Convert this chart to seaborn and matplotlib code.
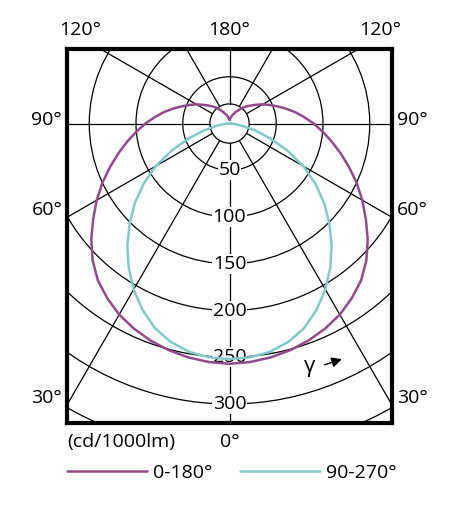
import numpy as np
import pandas as pd
import matplotlib
matplotlib.use("Agg")
import matplotlib.pyplot as plt
from matplotlib.patches import Circle
import seaborn as sns

# luminous intensity (cd/1000lm), gamma in degrees
gamma = list(range(0, 181, 5))
c0_180 = [257, 256, 254, 251, 247, 242, 236, 228, 219, 207,
          193, 178, 164, 150, 136, 123, 111, 100, 90, 80,
          71, 62, 54, 47, 41, 35, 30, 26, 22, 18,
          15, 12, 10, 8, 6, 5, 4]
c90_270 = [252, 251, 248, 242, 233, 220, 205, 188, 170, 151,
           132, 112, 91, 68, 46, 28, 14, 5, 0]

rings = [50, 100, 150, 200, 250, 300, 350, 400]
ring_labels = [50, 100, 150, 200, 250, 300]
spokes = list(range(0, 360, 30))
inner_r = 21

angle_labels_left = [("120°", 0.04, 1.052), ("90°", -0.062, 0.81),
                     ("60°", -0.062, 0.57), ("30°", -0.062, 0.067)]
angle_labels_right = [("120°", 0.963, 1.052), ("90°", 1.062, 0.81),
                      ("60°", 1.062, 0.57), ("30°", 1.062, 0.067)]

purple = "#924a8c"
cyan = "#82caca"
fs = 14


def to_xy(angles, values, name):
    # mirror the half-plane onto both sides, 0 deg pointing down
    a = np.radians(np.array(angles[:len(values)], dtype=float))
    r = np.array(values, dtype=float)
    left_x = -(r * np.sin(a))[::-1]
    left_y = -(r * np.cos(a))[::-1]
    right_x = (r * np.sin(a))[1:]
    right_y = -(r * np.cos(a))[1:]
    x = np.concatenate([left_x, right_x])
    y = np.concatenate([left_y, right_y])
    return pd.DataFrame({"x": x, "y": y, "order": np.arange(len(x)), "plane": name})


sns.set_style("white")
plt.rcParams["font.family"] = ["Open Sans", "DejaVu Sans"]
plt.rcParams["text.color"] = "black"

fig = plt.figure(figsize=(4.72, 5.07), dpi=100)
ax = fig.add_axes([67 / 472, 84 / 507, 325 / 472, 374 / 507])

# grid: rings and spokes
for r in rings:
    ax.add_patch(Circle((0, 0), r, fill=False, lw=0.9, color="black", zorder=1))
ax.add_patch(Circle((0, 0), inner_r, fill=False, lw=0.9, color="black", zorder=1))
for s in spokes:
    t = np.radians(s)
    ax.plot([inner_r * np.sin(t), 500 * np.sin(t)],
            [-inner_r * np.cos(t), -500 * np.cos(t)],
            color="black", lw=0.9, zorder=1)

for v in ring_labels:
    ax.text(0, -v, str(v), ha="center", va="center", fontsize=fs, zorder=2,
            bbox=dict(facecolor="white", edgecolor="none", pad=0.5))

df = pd.concat([to_xy(gamma, c0_180, "0-180°"), to_xy(gamma, c90_270, "90-270°")])
sns.lineplot(data=df, x="x", y="y", hue="plane", units="plane", estimator=None,
             sort=False, palette=[purple, cyan], lw=1.8, ax=ax, zorder=3, legend=False)

ax.text(86, -260, "γ", ha="center", va="center", fontsize=16, zorder=4)
ax.annotate("", xy=(123, -251), xytext=(99, -259),
            arrowprops=dict(arrowstyle="-|>", color="black", lw=1, mutation_scale=15),
            zorder=4)

ax.set_xlim(-173.8, 173.8)
ax.set_ylim(-320.3, 79.7)
ax.set_xticks([])
ax.set_yticks([])
ax.set_xlabel("")
ax.set_ylabel("")
for sp in ax.spines.values():
    sp.set_linewidth(3)
    sp.set_color("black")
    sp.set_zorder(5)

for txt, x, y in angle_labels_left + angle_labels_right + [("180°", 0.5, 1.052)]:
    ax.text(x, y, txt, transform=ax.transAxes, ha="center", va="center", fontsize=fs)
ax.text(0.5, -0.05, "0°", transform=ax.transAxes, ha="center", va="center", fontsize=fs)
ax.text(0.0, -0.05, "(cd/1000lm)", transform=ax.transAxes, ha="left", va="center", fontsize=fs)

handles = [plt.Line2D([], [], color=purple, lw=1.8),
           plt.Line2D([], [], color=cyan, lw=1.8)]
fig.legend(handles, ["0-180°", "90-270°"], loc="center left",
           bbox_to_anchor=(67 / 472, 1 - 473 / 507), ncol=2, frameon=False,
           fontsize=fs, handlelength=4.1, handletextpad=0.3, columnspacing=1.45,
           borderpad=0, borderaxespad=0, labelcolor="black")

fig.savefig("out.png", dpi=100)
